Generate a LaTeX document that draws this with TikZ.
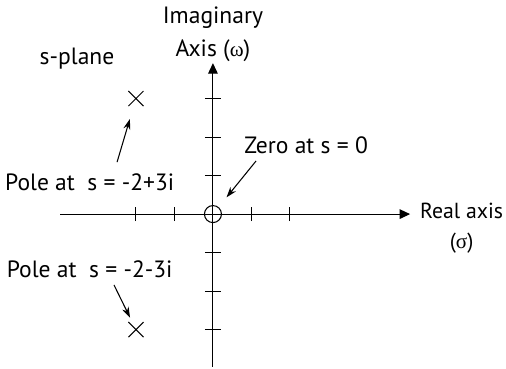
\documentclass[tikz,border=0pt]{standalone}
\usepackage{fontspec}
\setmainfont{PT Sans}
\newfontfamily\grk{Liberation Serif}
\usetikzlibrary{arrows.meta, positioning, shapes.misc}

\begin{document}
\begin{tikzpicture}[x=0.77cm, y=0.77cm, >={Stealth[length=6pt, width=4pt]}, line width=0.6pt, every node/.style={font=\fontsize{13.4}{16}\selectfont}]
    \useasboundingbox (-5.53,-4.0) rectangle (7.61,5.56);
    % Axes
    \coordinate (xl) at (-3.97,0);
    \coordinate (xr) at (5.12,0);
    \coordinate (yb) at (0,-3.97);
    \coordinate (yt) at (0,3.92);
    \draw[-{Triangle[length=6pt, width=5.5pt]}] (xl) -- (xr);
    \draw[-{Triangle[length=6pt, width=5.5pt]}] (yb) -- (yt);
    \foreach \i in {-2,-1,1,2} \draw (\i,-0.18) -- (\i,0.18);
    \foreach \j in {-3,-2,-1,1,2,3} \draw (-0.21,\j) -- (0.21,\j);
    \node[align=center, font=\fontsize{12.4}{15}\selectfont, inner sep=2pt, below right=-0.3cm and 0.12cm of xr] (real) {Real axis\\[2pt]({\grk\large σ})};
    \node[align=center, above=-0.1cm of yt] (imag) {Imaginary\\[3pt]Axis ({\grk\large ω})};
    \node (splane) at (-3.53,4.05) {s-plane};
    % Poles and zero
    \node[draw, cross out, minimum size=0.28cm, inner sep=0pt] (pole1) at (-2,3) {};
    \node[draw, cross out, minimum size=0.28cm, inner sep=0pt] (pole2) at (-2,-3) {};
    \node[draw, circle, minimum size=0.34cm, inner sep=0pt] (zero) at (0,0) {};
    % Labels
    \node (lblpole1) at (-3.2,0.83) {Pole at\ \ s = -2+3i};
    \node (lblpole2) at (-3.2,-1.43) {Pole at\ \ s = -2-3i};
    \node (lblzero) at (2.42,1.79) {Zero at s = 0};
    \coordinate (p1) at (-2.49,1.35);
    \coordinate (p2) at (-2.57,-1.84);
    \coordinate (z1) at (1.12,1.38);
    \draw[->, shorten >=0.27cm] (p1) -- (pole1);
    \draw[->, shorten >=0.1cm] (p2) -- (pole2);
    \draw[->, shorten >=0.25cm] (z1) -- (zero);
\end{tikzpicture}
\end{document}
